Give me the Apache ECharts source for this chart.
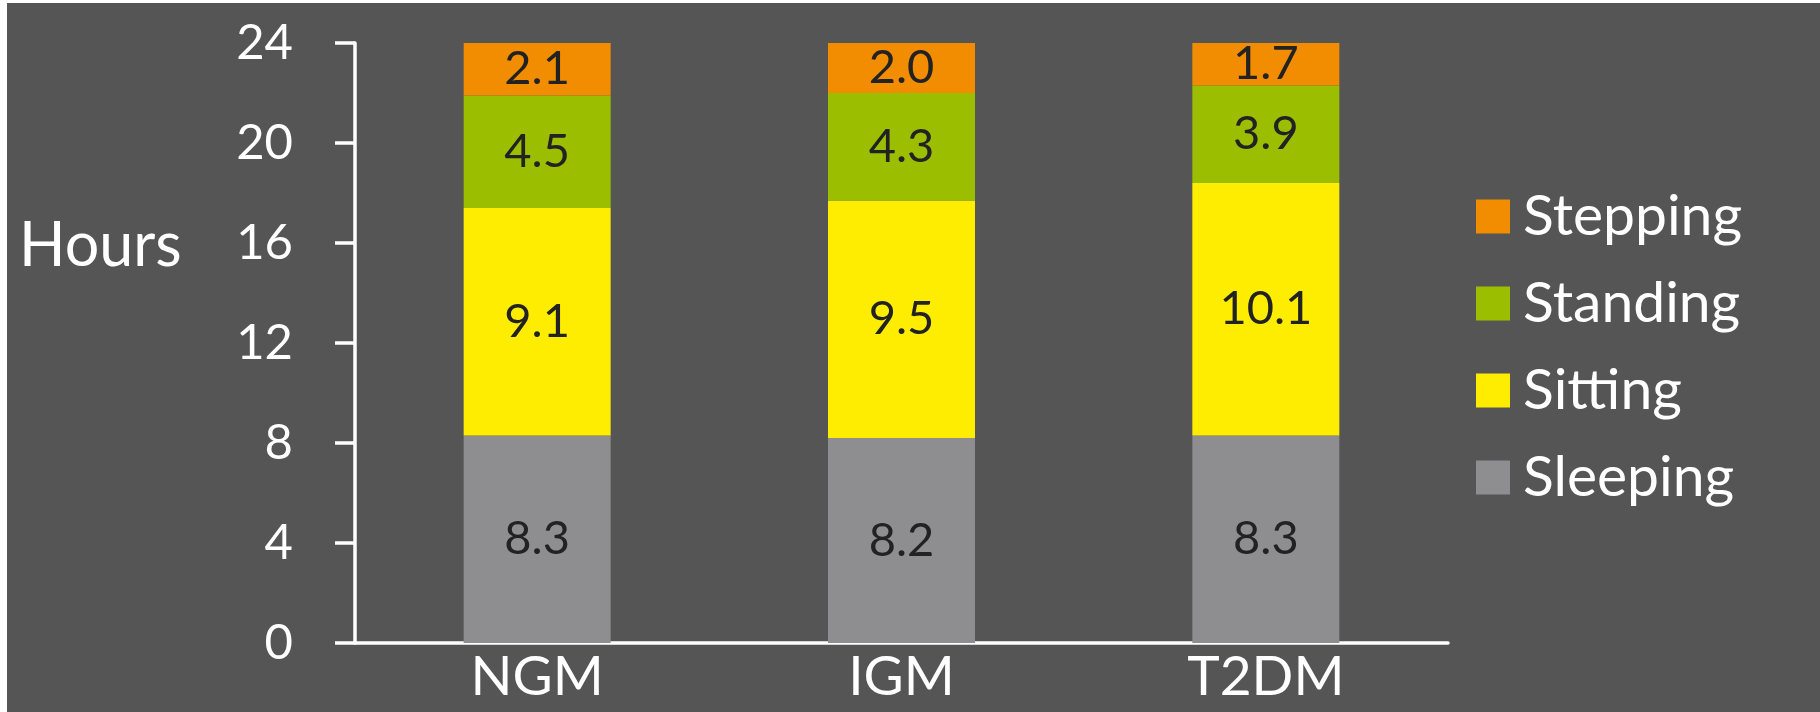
<!DOCTYPE html>
<html>
<head>
<meta charset="utf-8">
<script src="https://cdn.jsdelivr.net/npm/echarts@6/dist/echarts.min.js"></script>
<style>
  html, body { margin: 0; padding: 0; background: #ffffff; }
  #chart { position: absolute; left: 7px; top: 3px; width: 1813px; height: 709px; }
</style>
</head>
<body>
<div id="chart"></div>
<script>
// data
const categories = ['NGM', 'IGM', 'T2DM'];
const sleeping = [8.3, 8.2, 8.3];
const sitting = [9.1, 9.5, 10.1];
const standing = [4.5, 4.3, 3.9];
const stepping = [2.1, 2.0, 1.7];
const yTicks = [0, 4, 8, 12, 16, 20, 24];

const font = 'Lato';
const chart = echarts.init(document.getElementById('chart'));

const labelStyle = {
    show: true,
    position: 'inside',
    color: '#222222',
    fontSize: 47,
    fontFamily: font,
    formatter: p => p.value.toFixed(1)
};

const makeSeries = (name, data, color) => ({
    name: name,
    type: 'bar',
    stack: 'day',
    barWidth: 147,
    data: data,
    itemStyle: { color: color },
    label: labelStyle,
    emphasis: { disabled: true }
});

const option = {
    backgroundColor: '#555555',
    animation: false,
    title: {
        text: 'Hours',
        left: 12,
        top: 213,
        padding: 0,
        textStyle: { color: '#ffffff', fontSize: 61, fontWeight: 'normal', fontFamily: font }
    },
    legend: {
        orient: 'vertical',
        left: 1469,
        top: 185,
        padding: 0,
        icon: 'rect',
        itemWidth: 34,
        itemHeight: 34,
        itemGap: 30,
        data: ['Stepping', 'Standing', 'Sitting', 'Sleeping'],
        textStyle: { color: '#ffffff', fontSize: 57, fontFamily: font, padding: [0, 0, 0, 8] },
        selectedMode: false
    },
    grid: { left: 348, right: 372, top: 40, bottom: 69 },
    xAxis: {
        type: 'category',
        data: categories,
        axisLine: { lineStyle: { color: '#ffffff', width: 3.5 } },
        axisTick: { show: false },
        axisLabel: { color: '#ffffff', fontSize: 55, fontFamily: font, margin: 7 }
    },
    yAxis: {
        type: 'value',
        min: yTicks[0],
        max: yTicks[yTicks.length - 1],
        interval: 4,
        axisLine: { show: true, lineStyle: { color: '#ffffff', width: 3.5 } },
        axisTick: { show: true, length: 20, lineStyle: { color: '#ffffff', width: 3.5 } },
        splitLine: { show: false },
        axisLabel: { color: '#ffffff', fontSize: 49, fontFamily: font, margin: 62 }
    },
    series: [
        makeSeries('Sleeping', sleeping, '#8e8e90'),
        makeSeries('Sitting', sitting, '#ffed00'),
        makeSeries('Standing', standing, '#9bbf00'),
        makeSeries('Stepping', stepping, '#f28c00')
    ]
};

chart.setOption(option);
</script>
</body>
</html>
